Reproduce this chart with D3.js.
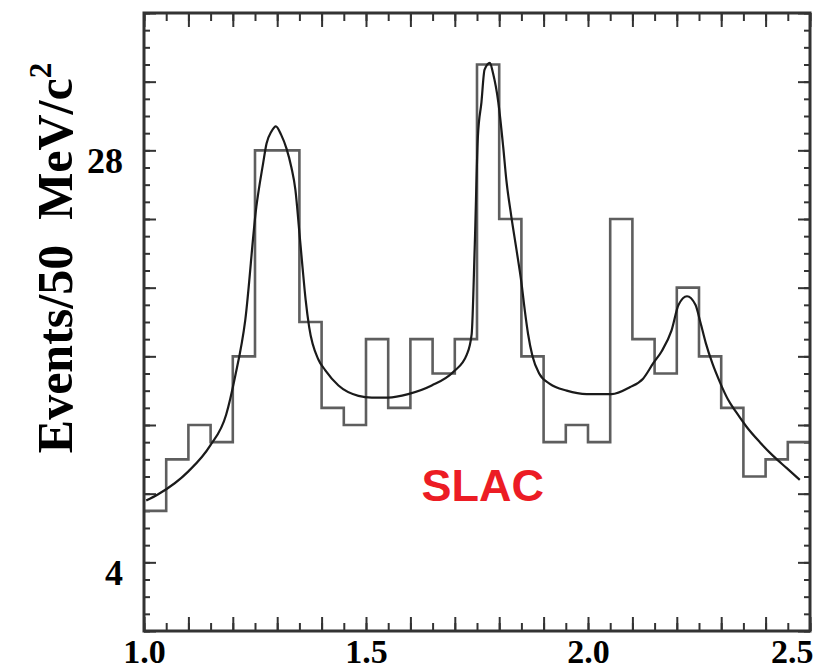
<!DOCTYPE html>
<html>
<head>
<meta charset="utf-8">
<script src="https://cdn.jsdelivr.net/npm/d3@7"></script>
<style>
  html, body { margin: 0; padding: 0; background: #fff; }
  svg { display: block; }
</style>
</head>
<body>
<svg id="chart" width="825" height="672"></svg>
<script>
// Mass bins (GeV/c^2, lower edge of each 50 MeV bin)
const binStart = [1.00, 1.05, 1.10, 1.15, 1.20, 1.25, 1.30, 1.35, 1.40, 1.45,
                  1.50, 1.55, 1.60, 1.65, 1.70, 1.75, 1.80, 1.85, 1.90, 1.95,
                  2.00, 2.05, 2.10, 2.15, 2.20, 2.25, 2.30, 2.35, 2.40, 2.45];
const binWidth = 0.05;
// Events per bin
const counts = [7, 10, 12, 11, 16, 28, 28, 18, 13, 12,
                17, 13, 17, 15, 17, 33, 24, 16, 11, 12,
                11, 24, 17, 15, 20, 16, 13, 9, 10, 11];

// Fitted curve (three resonances over a smooth background)
const fitMass = [1.005, 1.031, 1.100, 1.149, 1.185, 1.205, 1.228, 1.253, 1.268, 1.276,
                 1.287, 1.297, 1.309, 1.321, 1.332, 1.341, 1.350, 1.357, 1.364, 1.372,
                 1.393, 1.408, 1.438, 1.483, 1.513, 1.550, 1.595, 1.648, 1.697, 1.727,
                 1.738, 1.745, 1.752, 1.760, 1.767, 1.779, 1.786, 1.798, 1.809, 1.816,
                 1.827, 1.839, 1.850, 1.858, 1.865, 1.875, 1.890, 1.914, 1.952, 1.997,
                 2.053, 2.094, 2.124, 2.147, 2.166, 2.188, 2.204, 2.223, 2.242, 2.253,
                 2.265, 2.280, 2.297, 2.315, 2.335, 2.357, 2.387, 2.417, 2.447, 2.477];
const fitValue = [7.6, 7.95, 9.3, 10.8, 12.6, 14.8, 18.1, 24.7, 27.2, 28.4,
                  29.1, 29.4, 28.9, 28.1, 27.0, 25.7, 23.2, 21.2, 19.3, 17.7,
                  15.8, 15.2, 14.3, 13.7, 13.6, 13.6, 13.8, 14.3, 15.1, 16.1,
                  17.3, 22.5, 28.8, 30.8, 32.7, 33.1, 32.5, 30.8, 28.2, 26.3,
                  24.2, 22.2, 20.3, 18.6, 17.3, 16.0, 15.0, 14.4, 14.0, 13.8,
                  13.8, 14.2, 14.7, 15.6, 16.3, 17.5, 19.0, 19.5, 19.0, 18.0,
                  16.8, 15.6, 14.5, 13.5, 12.7, 11.9, 11.0, 10.2, 9.5, 8.8];

// Axis ticks and labels
const xLabelTicks = [1.0, 1.5, 2.0, 2.5];
const yLabelTicks = [4, 28];
const xDomain = [1.0, 2.5];
const yDomain = [0, 36];
const yLabel = "Events/50\u00a0\u00a0MeV/c";
const annotation = "SLAC";

const svg = d3.select("#chart");
const frame = { left: 144, right: 810, top: 13, bottom: 631 };

const x = d3.scaleLinear().domain(xDomain).range([frame.left, frame.right]);
const y = d3.scaleLinear().domain(yDomain).range([frame.bottom, frame.top]);

// tick positions: minor every 0.05 in mass, every 1 event; major every 0.1 / 4 events
const xMinor = d3.range(Math.round((xDomain[1] - xDomain[0]) / 0.05) + 1)
  .map(i => +(xDomain[0] + i * 0.05).toFixed(2));
const xMajor = xMinor.filter((v, i) => i % 2 === 0);
const yMinor = d3.range(yDomain[0], yDomain[1] + 1);
const yMajor = yMinor.filter(v => v % 4 === 0);

const tickColor = "#333";
function tickAxis(gen, pos, values, size) {
  const g = svg.append("g")
    .attr("transform", pos)
    .call(gen.tickValues(values).tickSize(size).tickSizeOuter(0).tickFormat(""));
  g.select(".domain").remove();
  g.selectAll("line").attr("stroke", tickColor).attr("stroke-width", 2);
  return g;
}

// inward-pointing ticks on all four sides
tickAxis(d3.axisTop(x), `translate(0,${frame.bottom})`, xMinor, 8);
tickAxis(d3.axisTop(x), `translate(0,${frame.bottom})`, xMajor, 14);
tickAxis(d3.axisBottom(x), `translate(0,${frame.top})`, xMinor, 8);
tickAxis(d3.axisBottom(x), `translate(0,${frame.top})`, xMajor, 14);
tickAxis(d3.axisRight(y), `translate(${frame.left},0)`, yMinor, 6);
tickAxis(d3.axisRight(y), `translate(${frame.left},0)`, yMajor, 12);
tickAxis(d3.axisLeft(y), `translate(${frame.right},0)`, yMinor, 6);
tickAxis(d3.axisLeft(y), `translate(${frame.right},0)`, yMajor, 12);

// histogram as a stepped outline
const stepPts = binStart.map((m, i) => [m, counts[i]]);
stepPts.push([binStart[binStart.length - 1] + binWidth, counts[counts.length - 1]]);
svg.append("path")
  .attr("d", d3.line().x(d => x(d[0])).y(d => y(d[1])).curve(d3.curveStepAfter)(stepPts))
  .attr("fill", "none")
  .attr("stroke", "#5e5e5e")
  .attr("stroke-width", 2.6);

// fitted curve
const fitPts = fitMass.map((m, i) => [m, fitValue[i]]);
svg.append("path")
  .attr("d", d3.line().x(d => x(d[0])).y(d => y(d[1])).curve(d3.curveMonotoneX)(fitPts))
  .attr("fill", "none")
  .attr("stroke", "#1a1a1a")
  .attr("stroke-width", 2.2);

// frame
svg.append("rect")
  .attr("x", frame.left).attr("y", frame.top)
  .attr("width", frame.right - frame.left).attr("height", frame.bottom - frame.top)
  .attr("fill", "none").attr("stroke", "#333").attr("stroke-width", 3);

const serif = "'Liberation Serif', 'Times New Roman', serif";

// x tick labels
const xl = svg.append("g")
  .attr("transform", `translate(0,${frame.bottom})`)
  .call(d3.axisBottom(x).tickValues(xLabelTicks).tickSize(0).tickPadding(8)
    .tickFormat(d3.format(".1f")));
xl.select(".domain").remove();
xl.selectAll("text")
  .attr("font-family", serif).attr("font-weight", "bold").attr("font-size", 34)
  .attr("fill", "#000")
  .attr("text-anchor", d => d === xDomain[1] ? "end" : "middle")
  .attr("dx", d => d === xDomain[1] ? 3 : 0);

// y tick labels
const yl = svg.append("g")
  .attr("transform", `translate(${frame.left},0)`)
  .call(d3.axisLeft(y).tickValues(yLabelTicks).tickSize(0).tickPadding(21)
    .tickFormat(d3.format("d")));
yl.select(".domain").remove();
yl.selectAll("text")
  .attr("font-family", serif).attr("font-weight", "bold").attr("font-size", 36)
  .attr("fill", "#000").attr("dy", "0.62em");

// y axis title
const yt = svg.append("text")
  .attr("transform", "translate(72,258) rotate(-90)")
  .attr("text-anchor", "middle")
  .attr("font-family", serif).attr("font-weight", "bold").attr("font-size", 50)
  .attr("fill", "#000");
yt.append("tspan").text(yLabel);
yt.append("tspan").attr("font-size", 31).attr("dy", -21).text("2");

// experiment tag
svg.append("text")
  .attr("x", x(1.625)).attr("y", y(7.6))
  .attr("font-family", "'Liberation Sans', Arial, sans-serif")
  .attr("font-weight", "bold").attr("font-size", 45)
  .attr("fill", "#ec1c24")
  .text(annotation);
</script>
</body>
</html>
